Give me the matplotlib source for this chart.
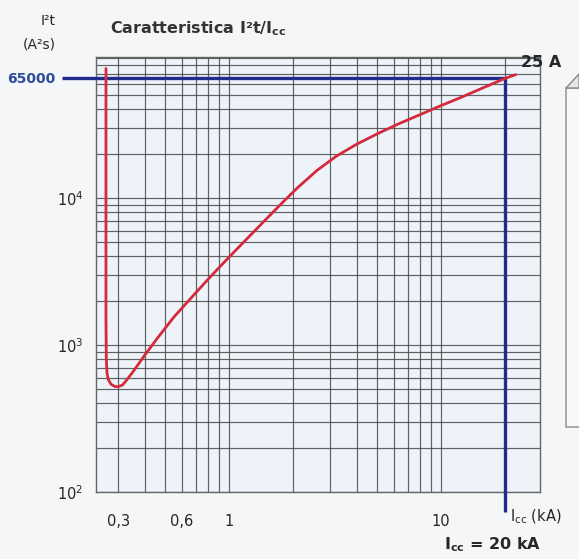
import matplotlib
matplotlib.use("Agg")
import matplotlib.pyplot as plt
from matplotlib.patches import Rectangle, Polygon

# ------------------ DATA ------------------ #
# red curve: Icc (kA) vs I2t (A^2 s)
icc_ka = [0.263, 0.263, 0.264, 0.266, 0.270, 0.278, 0.290, 0.300, 0.315,
          0.330, 0.352, 0.40, 0.457, 0.55, 0.655, 0.77, 0.887, 1.05,
          1.5, 1.8, 2.1, 2.6, 3.2, 4.0, 5.0, 6.2, 8.0, 10.0, 12.5, 15.5,
          20.0, 22.5]
i2t = [76000, 1500, 800, 640, 580, 540, 522, 520, 535,
       580, 655, 850, 1100, 1550, 2050, 2650, 3300, 4250,
       7200, 9400, 11700, 15400, 19200, 23200, 27300, 31600, 37000, 42500,
       48500, 55500, 65000, 69000]

x_ticks = [0.3, 0.6, 1, 10]
x_labels = ["0,3", "0,6", "1", "10"]
y_ticks = [100, 1000, 10000]
y_labels = [r"$10^2$", r"$10^3$", r"$10^4$"]

ICC_MARK = 20.0        # kA
I2T_MARK = 65000       # A^2 s

# ------------------ STYLE ------------------ #
plt.rcParams.update({
    "font.family": "DejaVu Sans",
    "mathtext.fontset": "dejavusans",
})
TXT = "#262626"
RED = "#d42a3c"
BLUE = "#1f2c8c"

fig = plt.figure(figsize=(5.79, 5.59), dpi=100, facecolor="#f4f6f8")
ax = fig.add_axes([96 / 579, 1 - 492 / 559, 444 / 579, 435 / 559])
ax.set_facecolor("#edf3f9")
ax.set_xscale("log")
ax.set_yscale("log")
ax.set_xlim(0.236, 29.3)
ax.set_ylim(100, 91000)

ax.grid(True, which="both", color="#474747", lw=0.85, alpha=0.85)
for s in ax.spines.values():
    s.set_color("#666666")
    s.set_linewidth(1.0)

ax.set_xticks(x_ticks, x_labels)
ax.set_yticks(y_ticks, y_labels)
ax.tick_params(which="both", length=0)
ax.tick_params(axis="x", pad=16, labelsize=10.5, colors=TXT)
ax.tick_params(axis="y", pad=9, labelsize=10.5, colors=TXT)

# curve
ax.plot(icc_ka, i2t, color=RED, lw=2.0, solid_capstyle="round",
        solid_joinstyle="round", zorder=4)

# blue reading lines (extend past the frame)
x_left = 0.163
y_low = 73
ax.plot([x_left, ICC_MARK, ICC_MARK], [I2T_MARK, I2T_MARK, y_low],
        color=BLUE, lw=2.4, clip_on=False, zorder=3, solid_capstyle="butt")

# ------------------ TEXTS ------------------ #
fig.text(48 / 579, 1 - 21 / 559, "I²t", ha="center", va="center",
         fontsize=10, color=TXT)
fig.text(39 / 579, 1 - 44 / 559, "(A²s)", ha="center", va="center",
         fontsize=10, color=TXT)
fig.text(110 / 579, 1 - 29 / 559, r"Caratteristica I²t/I$_\mathbf{cc}$",
         ha="left", va="center", fontsize=11.5, weight="bold", color="#333333")
fig.text(7 / 579, 1 - 79 / 559, "65000", ha="left", va="center",
         fontsize=10, weight="bold", color="#2d4c9c")
fig.text(521 / 579, 1 - 62 / 559, "25 A", ha="left", va="center",
         fontsize=11.5, weight="bold", color=TXT)
fig.text(510 / 579, 1 - 517 / 559, r"I$_{\rm cc}$ (kA)", ha="left",
         va="center", fontsize=10.5, color=TXT)
fig.text(444 / 579, 1 - 545 / 559, r"I$_\mathbf{cc}$ = 20 kA", ha="left",
         va="center", fontsize=11.5, weight="bold", color=TXT)

# fragment of the neighbouring picture on the right edge
fig.patches.append(Rectangle((566 / 579, 1 - 427 / 559), 0.1, 339 / 559,
                             transform=fig.transFigure, facecolor="#f7f8f9",
                             edgecolor="#9a9a9a", lw=1.2))
fig.patches.append(Polygon([(566 / 579, 1 - 88 / 559), (579 / 579, 1 - 74 / 559),
                            (579 / 579, 1 - 88 / 559)], closed=True,
                           transform=fig.transFigure, facecolor="#e4e6e8",
                           edgecolor="#8a8a8a", lw=1.0))

fig.savefig("out.png", dpi=100, facecolor=fig.get_facecolor())
